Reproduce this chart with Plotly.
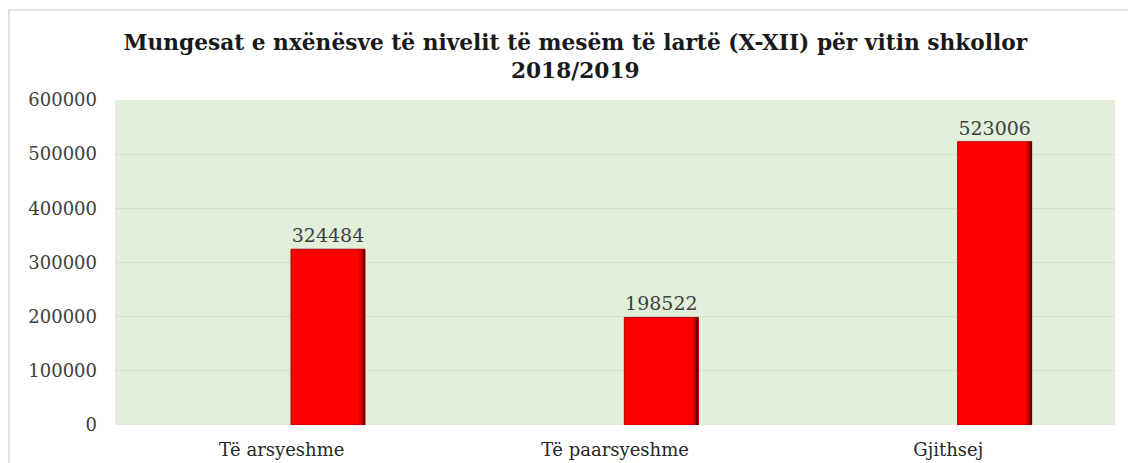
import plotly.graph_objects as go

categories = ["Të arsyeshme", "Të paarsyeshme", "Gjithsej"]
values = [324484, 198522, 523006]
y_ticks = [0, 100000, 200000, 300000, 400000, 500000, 600000]
title_text = "Mungesat e nxënësve të nivelit të mesëm të lartë (X-XII) për vitin shkollor<br>2018/2019"

FONT = "DejaVu Serif"
BAR_W = 0.222
BAR_OFF = 0.028

fig = go.Figure()
fig.add_trace(go.Bar(
    x=categories, y=values,
    width=BAR_W, offset=BAR_OFF,
    marker=dict(color="#ff0000", line=dict(color="#b00000", width=1)),
    text=[str(v) for v in values], textposition="outside",
    textfont=dict(family=FONT, size=19, color="#404040"),
    cliponaxis=False, showlegend=False, hoverinfo="x+y",
))
# right-edge shading strips for a bevelled look
shades = [("#e00000", 0.018), ("#b00000", 0.011), ("#6a0000", 0.005)]
for col, w in shades:
    fig.add_trace(go.Bar(
        x=categories, y=values,
        width=w, offset=BAR_OFF + BAR_W - w,
        marker=dict(color=col, line=dict(width=0)),
        showlegend=False, hoverinfo="skip",
    ))

fig.update_layout(
    width=1128, height=463,
    margin=dict(l=115, r=13, t=100, b=38, autoexpand=False),
    paper_bgcolor="white",
    plot_bgcolor="#e2efda",
    barmode="overlay",
    title=dict(text="<b>" + title_text + "</b>", x=0.51, xanchor="center",
               y=1 - 50 / 463, yanchor="top", yref="container",
               font=dict(family=FONT, size=21.7, color="#1a1a1a")),
    xaxis=dict(showgrid=False, showline=False, ticks="", automargin=False,
               tickfont=dict(family=FONT, size=18, color="#262626"),
               ticklabelstandoff=12),
    yaxis=dict(range=[0, 600000], tickvals=y_ticks, automargin=False,
               ticktext=[str(v) for v in y_ticks],
               showgrid=True, gridcolor="#d3e0c9", gridwidth=1,
               zeroline=False, showline=False, ticks="",
               tickfont=dict(family=FONT, size=18, color="#404040"),
               ticklabelstandoff=17),
    shapes=[dict(type="rect", xref="paper", yref="paper",
                 x0=-0.106, x1=1.2, y0=-0.3, y1=(425 - 10) / 325,
                 line=dict(color="#d9d9d9", width=1.5), fillcolor="rgba(0,0,0,0)",
                 layer="below")],
)

fig.write_html("out.html", config={"displayModeBar": False},
               post_script="document.body.style.margin='0';document.body.style.overflow='hidden';")
